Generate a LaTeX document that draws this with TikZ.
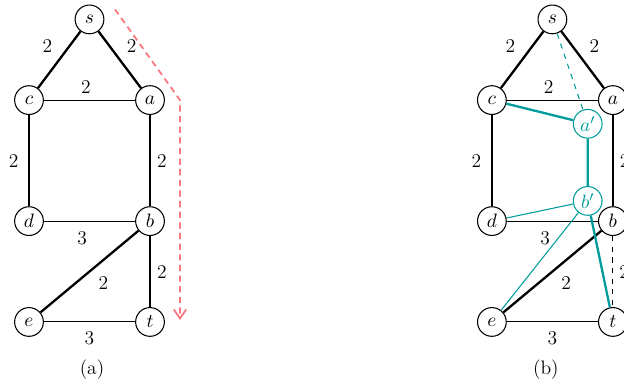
\documentclass[tikz,border=0pt]{standalone}
\usepackage{tikz}
\usetikzlibrary{arrows.meta}
\definecolor{cutteal}{RGB}{0,155,155}
\definecolor{pathred}{RGB}{250,120,125}

\begin{document}
\begin{tikzpicture}[font=\fontsize{11}{13}\selectfont,
	vertex/.style={circle, draw, line width=0.6pt, inner sep=0pt, minimum size=0.57cm},
	heavy/.style={line width=1.3pt}, light/.style={line width=0.6pt}]
	\useasboundingbox (-0.575,-1.289) rectangle (11.8,6.385);
	\foreach \k/\x in {A/0,B/9.18} {
		\node[vertex] (s\k) at (\x+1.2,6) {\(s\)};
		\node[vertex] (c\k) at (\x,4.4) {\(c\)};
		\node[vertex] (a\k) at (\x+2.4,4.4) {\(a\)};
		\node[vertex] (d\k) at (\x,2) {\(d\)};
		\node[vertex] (b\k) at (\x+2.4,2) {\(b\)};
		\node[vertex] (e\k) at (\x,0) {\(e\)};
		\node[vertex] (t\k) at (\x+2.4,0) {\(t\)};
		\draw[heavy] (s\k) -- node[above left]{2} (c\k);
		\draw[heavy] (s\k) -- node[above right]{2} (a\k);
		\draw[light] (c\k) -- node[above, pos=0.46]{2} (a\k);
		\draw[heavy] (c\k) -- node[left=2pt]{2} (d\k);
		\draw[heavy] (a\k) -- node[right]{2} (b\k);
		\draw[light] (d\k) -- node[below=2pt, pos=0.42]{3} (b\k);
		\draw[heavy] (b\k) -- node[below right, pos=0.48]{2} (e\k);
		\draw[light] (e\k) -- node[below=2pt]{3} (t\k);
	}
	\draw[heavy] (bA) -- node[right]{2} (tA);
	\draw[light, dashed] (bB) -- node[right]{2} (tB);
	% the path down the left copy
	\coordinate (r1) at (1.705,6.2);
	\coordinate (r2) at (2.995,4.4);
	\coordinate (r3) at (2.995,0.04);
	\draw[pathred, line width=1pt, dash pattern=on 3.5pt off 2.5pt, -{Straight Barb[length=5pt,width=7pt]}] (r1) -- (r2) -- (r3);
	% the copies a' and b'
	\node[vertex, draw=cutteal, text=cutteal] (apB) at (11.08,3.93) {\(a'\)};
	\node[vertex, draw=cutteal, text=cutteal] (bpB) at (11.08,2.4) {\(b'\)};
	\draw[cutteal, light, dashed] (sB) -- (apB);
	\draw[cutteal, heavy] (cB) -- (apB) -- (bpB) -- (tB);
	\draw[cutteal, light] (bpB) -- (dB);
	\draw[cutteal, light] (bpB) -- (eB);
	\node (capA) at (1.25,-0.95) {(a)};
	\node (capB) at (10.25,-0.95) {(b)};
\end{tikzpicture}
\end{document}
